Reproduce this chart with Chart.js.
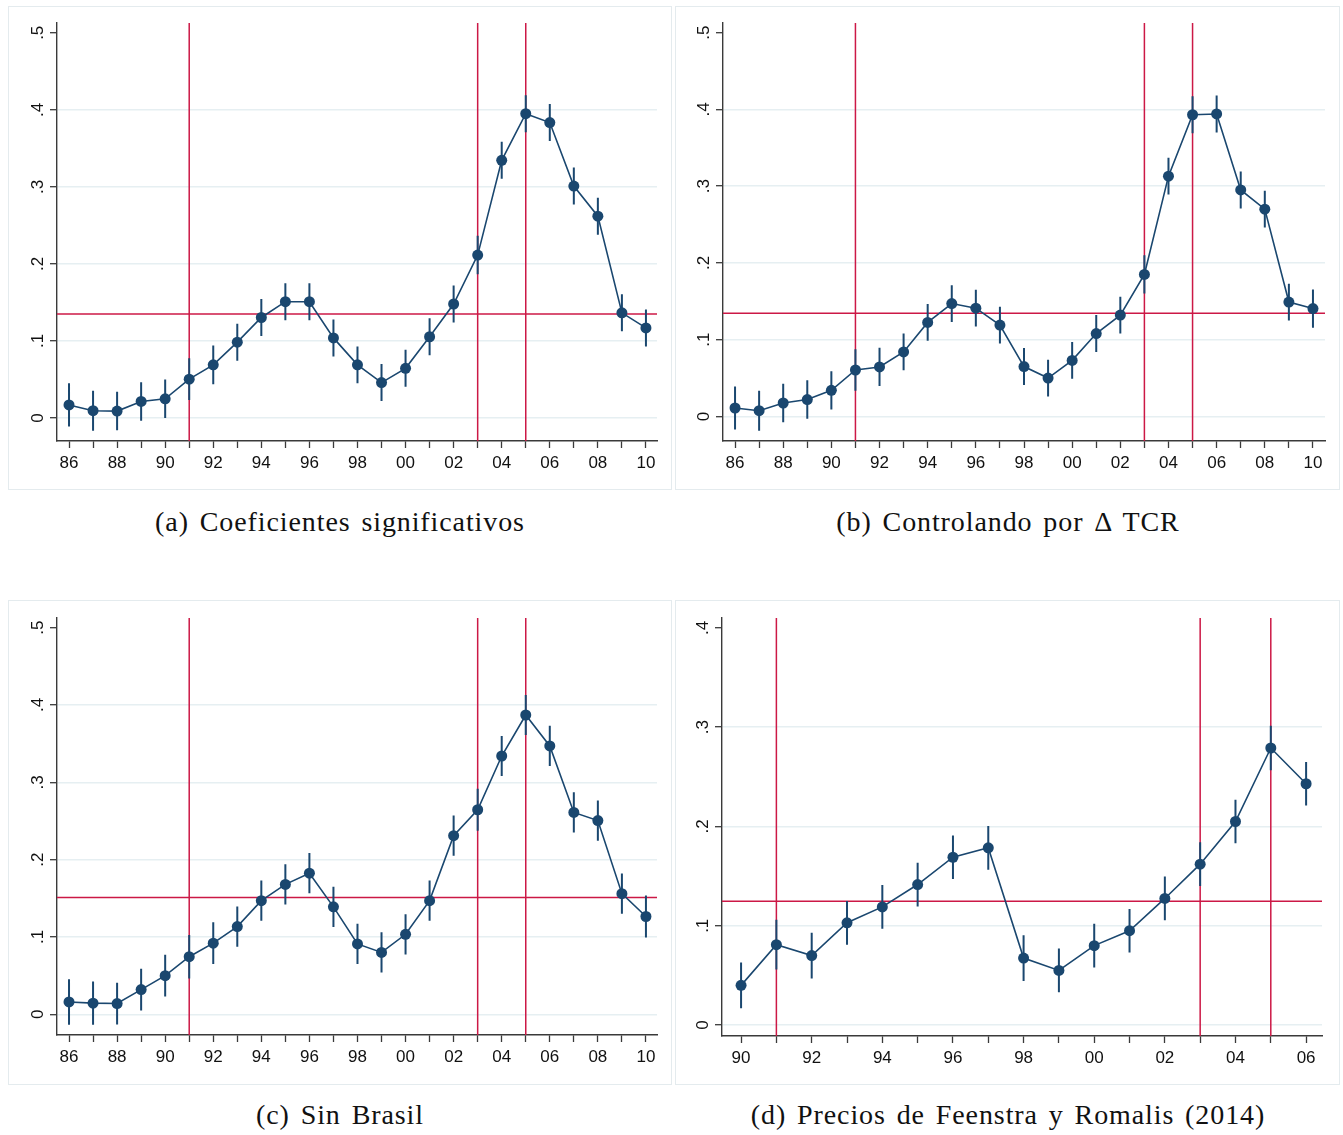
<!DOCTYPE html>
<html>
<head>
<meta charset="utf-8">
<script src="https://cdn.jsdelivr.net/npm/chart.js@4/dist/chart.umd.min.js"></script>
<style>
  body { margin: 0; background: #fff; width: 1343px; height: 1135px; position: relative; overflow: hidden; }
  .frame { position: absolute; border: 1px solid #e4ebee; box-sizing: border-box; }
  .frame canvas { position: absolute; left: 0; top: 0; }
  .cap { position: absolute; width: 666px; text-align: center; font-family: "Liberation Serif", "DejaVu Serif", serif;
         font-size: 28px; letter-spacing: 0.9px; word-spacing: 3px; color: #111; }
</style>
</head>
<body>

<div class="frame" id="fa" style="left:8px;top:6px;width:664px;height:484px"><canvas id="ca"></canvas></div>
<div class="frame" id="fb" style="left:675px;top:6px;width:665px;height:484px"><canvas id="cb"></canvas></div>
<div class="frame" id="fc" style="left:8px;top:600px;width:664px;height:485px"><canvas id="cc"></canvas></div>
<div class="frame" id="fd" style="left:675px;top:600px;width:665px;height:485px"><canvas id="cd"></canvas></div>

<div class="cap" style="left:7px;top:506px">(a) Coeficientes significativos</div>
<div class="cap" style="left:675px;top:506px">(b) Controlando por Δ TCR</div>
<div class="cap" style="left:7px;top:1099px">(c) Sin Brasil</div>
<div class="cap" style="left:675px;top:1099px">(d) Precios de Feenstra y Romalis (2014)</div>

<script>
// data
const yearsFull = [1986,1987,1988,1989,1990,1991,1992,1993,1994,1995,1996,1997,1998,1999,2000,2001,2002,2003,2004,2005,2006,2007,2008,2009,2010];
const yearsD = [1990,1991,1992,1993,1994,1995,1996,1997,1998,1999,2000,2001,2002,2003,2004,2005,2006];

const coefA = [0.017,0.0095,0.009,0.0215,0.025,0.0505,0.069,0.0985,0.1305,0.151,0.151,0.104,0.069,0.046,0.0645,0.1055,0.148,0.2115,0.3345,0.395,0.3835,0.301,0.262,0.1365,0.117];
const errA  = [0.028,0.026,0.025,0.025,0.025,0.027,0.025,0.024,0.024,0.024,0.024,0.024,0.024,0.024,0.024,0.024,0.024,0.025,0.024,0.024,0.024,0.024,0.024,0.024,0.024];
const meanA = 0.135;

const coefB = [0.011,0.0075,0.0175,0.022,0.034,0.0605,0.0645,0.084,0.1225,0.147,0.141,0.119,0.065,0.050,0.073,0.108,0.132,0.185,0.313,0.393,0.394,0.295,0.270,0.149,0.1405];
const errB  = [0.028,0.026,0.025,0.025,0.025,0.027,0.025,0.024,0.024,0.024,0.024,0.024,0.024,0.024,0.024,0.024,0.024,0.025,0.024,0.024,0.024,0.024,0.024,0.024,0.025];
const meanB = 0.1345;

const coefC = [0.016,0.0145,0.014,0.032,0.050,0.0745,0.092,0.1135,0.147,0.168,0.1825,0.139,0.091,0.080,0.1035,0.147,0.231,0.2645,0.334,0.387,0.347,0.261,0.2505,0.156,0.1265];
const errC  = [0.0295,0.028,0.027,0.027,0.027,0.028,0.027,0.026,0.026,0.026,0.026,0.026,0.026,0.026,0.026,0.026,0.026,0.027,0.026,0.026,0.026,0.026,0.026,0.026,0.027];
const meanC = 0.151;

const coefD = [0.040,0.081,0.070,0.103,0.119,0.1415,0.169,0.1785,0.0675,0.055,0.080,0.095,0.1275,0.162,0.205,0.279,0.243];
const errD  = [0.023,0.025,0.023,0.022,0.022,0.022,0.022,0.022,0.023,0.022,0.022,0.022,0.022,0.022,0.022,0.0225,0.022];
const meanD = 0.1248;

const shockYears = [1991, 2003, 2005];
const yTicks5 = [0, 0.1, 0.2, 0.3, 0.4, 0.5];
const yTicks4 = [0, 0.1, 0.2, 0.3, 0.4];

const NAVY = '#1a476f';
const RED = '#cc1846';
const AXIS = '#3a3a3a';

// draws the rotated y labels the way Stata does
const yLabelPlugin = {
  id: 'ylabels',
  afterDraw(chart) {
    const s = chart.scales.y;
    const ctx = chart.ctx;
    ctx.save();
    ctx.fillStyle = '#111';
    ctx.font = '17px "Liberation Sans", Arial, sans-serif';
    ctx.textAlign = 'center';
    ctx.textBaseline = 'alphabetic';
    s.ticks.forEach(t => {
      const y = s.getPixelForValue(t.value);
      const lab = t.value === 0 ? '0' : '.' + Math.round(t.value * 10);
      ctx.save();
      ctx.translate(s.right - 14, y);
      ctx.rotate(-Math.PI / 2);
      ctx.fillText(lab, 0, 0);
      ctx.restore();
    });
    ctx.restore();
  }
};

function makePanel(canvasId, w, h, box, years, coef, err, mean, yTicks) {
  const cv = document.getElementById(canvasId);
  cv.width = w; cv.height = h;
  cv.style.width = w + 'px'; cv.style.height = h + 'px';

  const pts = years.map((y, i) => ({ x: y, y: coef[i] }));
  const bars = [];
  years.forEach((y, i) => {
    bars.push({ x: y, y: coef[i] - err[i] });
    bars.push({ x: y, y: coef[i] + err[i] });
    bars.push({ x: y, y: null });
  });
  const vlines = [];
  shockYears.forEach(y => {
    vlines.push({ x: y, y: box.ymin });
    vlines.push({ x: y, y: box.ymax });
    vlines.push({ x: y, y: null });
  });
  const hline = [{ x: box.xmin, y: mean }, { x: box.xmax, y: mean }];
  const topTick = yTicks[yTicks.length - 1];

  new Chart(cv, {
    type: 'line',
    data: {
      datasets: [
        { data: pts, borderColor: NAVY, borderWidth: 1.6, pointRadius: 5.5, pointBackgroundColor: NAVY,
          pointBorderWidth: 0, order: 1 },
        { data: bars, borderColor: NAVY, borderWidth: 2, pointRadius: 0, spanGaps: false, order: 2 },
        { data: vlines, borderColor: RED, borderWidth: 1.5, pointRadius: 0, spanGaps: false, order: 3 },
        { data: hline, borderColor: RED, borderWidth: 1.5, pointRadius: 0, order: 3 }
      ]
    },
    options: {
      responsive: false,
      animation: false,
      events: [],
      layout: { padding: { left: 0, top: box.top, right: box.right, bottom: 0 } },
      plugins: { legend: { display: false }, tooltip: { enabled: false } },
      scales: {
        x: {
          type: 'linear', min: box.xmin, max: box.xmax,
          afterBuildTicks: ax => { ax.ticks = years.map(v => ({ value: v })); },
          afterFit: ax => { ax.height = box.bottom; },
          ticks: {
            autoSkip: false, maxRotation: 0, padding: 5, color: '#111',
            font: { family: '"Liberation Sans", Arial, sans-serif', size: 17 },
            callback: v => (v % 2 === 0 ? String(v % 100).padStart(2, '0') : '')
          },
          grid: { drawOnChartArea: false, drawTicks: true, tickLength: 7, tickColor: AXIS, tickWidth: 1.3 },
          border: { display: true, color: AXIS, width: 1.4 }
        },
        y: {
          type: 'linear', min: box.ymin, max: box.ymax,
          afterBuildTicks: ax => { ax.ticks = yTicks.map(v => ({ value: v })); },
          afterFit: ax => { ax.width = box.left; },
          ticks: { display: false },
          grid: {
            drawOnChartArea: true, drawTicks: true, tickLength: 7, tickColor: AXIS, tickWidth: 1.3,
            color: ctx => (ctx.tick && ctx.tick.value === topTick ? 'rgba(0,0,0,0)' : '#e6eff2'), lineWidth: 1.4
          },
          border: { display: true, color: AXIS, width: 1.4 }
        }
      }
    },
    plugins: [yLabelPlugin]
  });
}

makePanel('ca', 662, 482, { left: 48, top: 16, right: 14, bottom: 48, xmin: 1985.5, xmax: 2010.46, ymin: -0.0298, ymax: 0.5127 },
  yearsFull, coefA, errA, meanA, yTicks5);
makePanel('cb', 663, 482, { left: 47, top: 16, right: 14, bottom: 48, xmin: 1985.5, xmax: 2010.5, ymin: -0.032, ymax: 0.5125 },
  yearsFull, coefB, errB, meanB, yTicks5);
makePanel('cc', 662, 483, { left: 48, top: 17, right: 14, bottom: 49, xmin: 1985.5, xmax: 2010.46, ymin: -0.0267, ymax: 0.5124 },
  yearsFull, coefC, errC, meanC, yTicks5);
makePanel('cd', 663, 483, { left: 46, top: 17, right: 17, bottom: 48, xmin: 1989.46, xmax: 2006.45, ymin: -0.011, ymax: 0.4099 },
  yearsD, coefD, errD, meanD, yTicks4);
</script>
</body>
</html>
